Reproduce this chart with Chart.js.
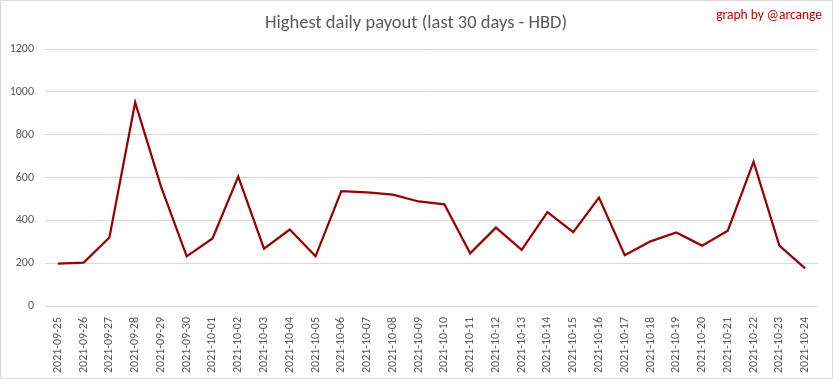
<!DOCTYPE html>
<html>
<head>
<meta charset="utf-8">
<script src="https://cdn.jsdelivr.net/npm/chart.js@4"></script>
<style>
html,body{margin:0;padding:0;background:#fff;}
#wrap{position:relative;width:833px;height:379px;}
</style>
</head>
<body>
<div id="wrap"><canvas id="c" width="833" height="379"></canvas></div>
<script>
const categories = ["2021-09-25","2021-09-26","2021-09-27","2021-09-28","2021-09-29","2021-09-30","2021-10-01","2021-10-02","2021-10-03","2021-10-04","2021-10-05","2021-10-06","2021-10-07","2021-10-08","2021-10-09","2021-10-10","2021-10-11","2021-10-12","2021-10-13","2021-10-14","2021-10-15","2021-10-16","2021-10-17","2021-10-18","2021-10-19","2021-10-20","2021-10-21","2021-10-22","2021-10-23","2021-10-24"];
const payouts = [198,203,320,951,559,232,315,604,268,357,232,536,531,520,488,475,246,366,262,438,345,506,237,302,343,282,352,674,282,176];
const yTicks = [0,200,400,600,800,1000,1200];
const titleText = "Highest daily payout (last 30 days - HBD)";
const creditText = "graph by @arcange";

const FONT = "Carlito, Calibri, Lato, 'Open Sans', sans-serif";

const deco = {
  id: 'deco',
  afterDraw(chart) {
    const ctx = chart.ctx;
    ctx.save();
    ctx.strokeStyle = '#d9d9d9';
    ctx.lineWidth = 1;
    ctx.strokeRect(0.5, 0.5, 832, 378);
    ctx.fillStyle = '#595959';
    ctx.font = "18.5px " + FONT;
    ctx.textAlign = 'center';
    ctx.textBaseline = 'middle';
    ctx.fillText(titleText, 416, 23);
    ctx.fillStyle = '#c00000';
    ctx.font = "13.5px " + FONT;
    ctx.textAlign = 'right';
    ctx.fillText(creditText, 822, 16);
    ctx.restore();
  }
};

new Chart(document.getElementById('c'), {
  type: 'line',
  data: {
    labels: categories,
    datasets: [{
      data: payouts,
      borderColor: '#990000',
      borderWidth: 2.25,
      pointRadius: 0,
      tension: 0,
      fill: false
    }]
  },
  options: {
    responsive: false,
    animation: false,
    layout: { padding: { top: 49, right: 15, left: 0, bottom: 0 } },
    plugins: { legend: { display: false }, title: { display: false }, tooltip: { enabled: false } },
    scales: {
      x: {
        offset: true,
        grid: { display: false },
        border: { display: false },
        ticks: {
          color: '#595959',
          font: { size: 12, family: FONT },
          maxRotation: 90, minRotation: 90,
          autoSkip: false,
          padding: 3
        },
        afterFit(s) { s.height = 73; }
      },
      y: {
        min: 0, max: 1200,
        afterBuildTicks(s) { s.ticks = yTicks.map(v => ({ value: v })); },
        grid: { color: '#d9d9d9', drawTicks: false },
        border: { display: false },
        ticks: {
          color: '#595959',
          font: { size: 12, family: FONT },
          padding: 11,
          callback: v => String(v)
        },
        afterFit(s) { s.width = 45; }
      }
    }
  },
  plugins: [deco]
});
</script>
</body>
</html>
